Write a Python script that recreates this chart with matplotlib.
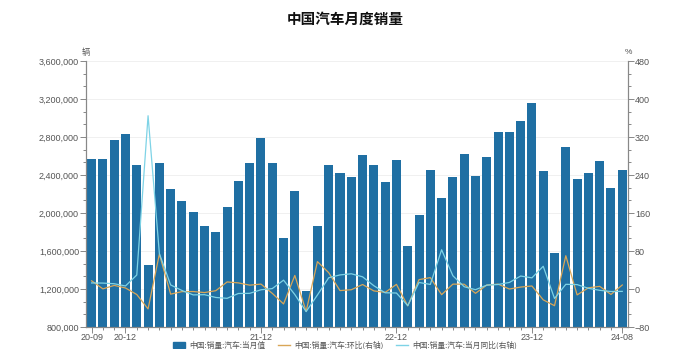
import matplotlib
matplotlib.use("Agg")
import matplotlib.pyplot as plt
from matplotlib.ticker import FixedLocator, AutoMinorLocator, FuncFormatter
from matplotlib.lines import Line2D
from matplotlib.patches import Patch

plt.rcParams['font.family'] = ['Liberation Sans', 'Noto Sans CJK SC', 'DejaVu Sans']

months = ["20-09", "20-10", "20-11", "20-12", "21-01", "21-02", "21-03", "21-04", "21-05", "21-06",
          "21-07", "21-08", "21-09", "21-10", "21-11", "21-12", "22-01", "22-02", "22-03", "22-04",
          "22-05", "22-06", "22-07", "22-08", "22-09", "22-10", "22-11", "22-12", "23-01", "23-02",
          "23-03", "23-04", "23-05", "23-06", "23-07", "23-08", "23-09", "23-10", "23-11", "23-12",
          "24-01", "24-02", "24-03", "24-04", "24-05", "24-06", "24-07", "24-08"]

sales = [2565000, 2573000, 2769000, 2831000, 2503000, 1455000, 2526000, 2252000, 2128000, 2015000,
         1864000, 1799000, 2067000, 2333000, 2522000, 2785000, 2531000, 1737000, 2234000, 1181000,
         1862000, 2502000, 2420000, 2383000, 2610000, 2505000, 2328000, 2556000, 1649000, 1976000,
         2451000, 2159000, 2382000, 2622000, 2387000, 2585000, 2852000, 2853000, 2970000, 3159000,
         2439000, 1584000, 2694000, 2359000, 2417000, 2552000, 2262000, 2453000]

mom = [17.3, 0.3, 7.6, 2.2, -11.6, -41.9, 73.6, -10.8, -5.5, -5.3,
       -7.5, -3.5, 14.9, 12.9, 8.1, 10.4, -9.1, -31.4, 28.6, -47.1,
       57.7, 34.4, -3.3, -1.5, 9.5, -4.0, -7.1, 9.8, -35.5, 19.8,
       24.0, -11.9, 10.3, 10.1, -9.0, 8.3, 10.3, 0.0, 4.1, 6.4,
       -22.8, -35.1, 70.1, -12.4, 2.5, 5.6, -11.4, 8.5]

yoy = [12.8, 12.5, 11.1, 6.4, 29.5, 364.9, 74.9, 8.6, -3.1, -12.4,
       -11.9, -17.8, -19.6, -9.4, -9.1, -1.6, 0.9, 18.7, -11.7, -47.6,
       -12.6, 23.8, 29.7, 32.1, 25.7, 6.9, -7.9, -8.4, -35.0, 13.8,
       9.7, 82.7, 27.9, 4.8, -1.4, 8.2, 9.5, 13.8, 27.4, 23.5,
       47.9, -19.9, 9.9, 9.3, 1.5, -2.7, -5.2, -5.0]

tick_labels = ["20-09", "20-12", "21-12", "22-12", "23-12", "24-08"]

bar_color = "#1f6fa3"
mom_color = "#d9a657"
yoy_color = "#7ed3e6"
axis_color = "#888888"
text_color = "#555555"

fig = plt.figure(figsize=(6.9, 3.49), dpi=100)
ax = fig.add_axes([0.1246, 0.063, 0.7854, 0.762])
x = list(range(len(months)))
ax.bar(x, sales, width=0.8, color=bar_color, zorder=2)
ax.set_xlim(-0.5, len(months) - 0.5)
ax.set_ylim(800000, 3600000)
ax.set_yticks(range(800000, 3600001, 400000))
ax.yaxis.set_minor_locator(AutoMinorLocator(3))
ax.yaxis.set_major_formatter(FuncFormatter(lambda v, p: f"{int(v):,}"))
ax.grid(axis='y', color="#eeeeee", linewidth=0.6, zorder=0)
ax.set_axisbelow(True)

major_pos = [months.index(m) for m in tick_labels]
ax.set_xticks(major_pos)
ax.set_xticklabels(tick_labels)
ax.xaxis.set_minor_locator(FixedLocator(x))

ax2 = ax.twinx()
ax2.plot(x, mom, color=mom_color, linewidth=0.9, zorder=3)
ax2.plot(x, yoy, color=yoy_color, linewidth=0.9, zorder=3)
ax2.set_ylim(-80, 480)
ax2.set_yticks(range(-80, 481, 80))
ax2.yaxis.set_minor_locator(AutoMinorLocator(3))

for a in (ax, ax2):
    a.spines['top'].set_visible(False)
    for s in ('left', 'right', 'bottom'):
        a.spines[s].set_color(axis_color)
        a.spines[s].set_linewidth(0.8)
    a.tick_params(which='both', colors=axis_color, labelcolor=text_color, labelsize=6.5, width=0.7)
    a.tick_params(which='major', length=4)
    a.tick_params(which='minor', length=2.5)
ax.tick_params(axis='y', pad=1)
ax2.tick_params(axis='y', pad=1)
ax.tick_params(axis='x', pad=0.5)

fig.text(0.5, 0.945, "中国汽车月度销量", ha='center', va='center', fontsize=10.5,
         fontweight='bold', family=['Noto Sans CJK SC'], color='#111111')
fig.text(86/690, 1 - 53/349, "辆", ha='center', va='center', fontsize=6,
         family=['Noto Sans CJK SC'], color=text_color)
fig.text(628/690, 1 - 53/349, "%", ha='center', va='center', fontsize=6, color=text_color)

handles = [Patch(facecolor=bar_color, edgecolor=bar_color),
           Line2D([0], [0], color=mom_color, linewidth=1),
           Line2D([0], [0], color=yoy_color, linewidth=1)]
labels = ["中国:销量:汽车:当月值", "中国:销量:汽车:环比(右轴)", "中国:销量:汽车:当月同比(右轴)"]
leg = fig.legend(handles, labels, loc='center', bbox_to_anchor=(345/690, 1 - 345.5/349), ncol=3,
                 frameon=False, borderpad=0, borderaxespad=0,
                 prop={'family': ['Noto Sans CJK SC'], 'size': 5.6}, handlelength=1.6,
                 handleheight=0.8, columnspacing=1.6, handletextpad=0.5)
for t in leg.get_texts():
    t.set_color(text_color)

fig.savefig("out.png", dpi=100)
